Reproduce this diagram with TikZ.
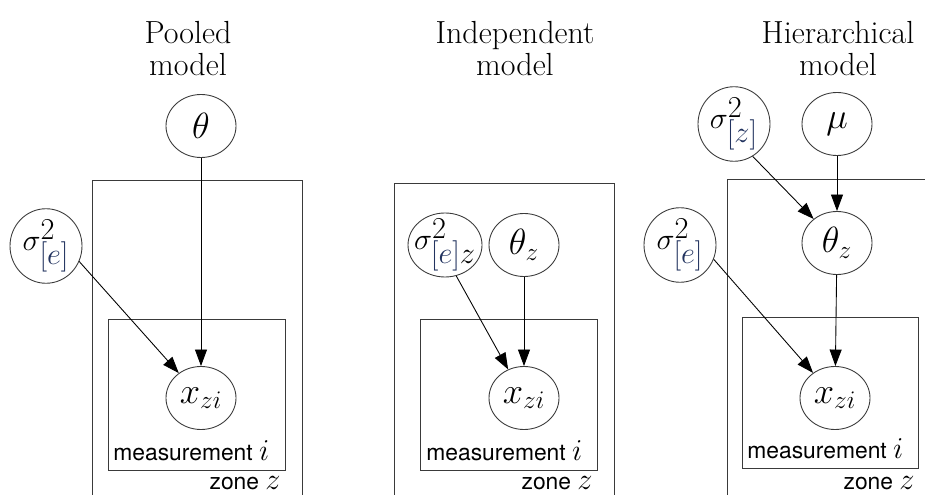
\documentclass[tikz,border=0pt]{standalone}
\usepackage{fontspec}
\setsansfont{TeX Gyre Heros}
\usetikzlibrary{arrows.meta,shapes.geometric}
\definecolor{idx}{HTML}{22335F}
\definecolor{edge}{HTML}{3A3A3A}
\newcommand{\brk}[1]{\textcolor{idx}{[#1]}}
\newcommand{\vsig}[1]{\sigma^{\textstyle 2}_{\textstyle #1}}
\newcommand{\ix}[1]{{\LARGE$#1$}}

\begin{document}
\begin{tikzpicture}[>={Triangle[length=3.3mm,width=2.4mm]},
  var/.style={draw=edge,ellipse,inner sep=0pt,minimum width=1.4cm,minimum height=1.26cm,
              font=\huge,line width=0.5pt},
  svar/.style={var,font=\fontsize{17}{18}\selectfont,minimum width=1.44cm,minimum height=1.24cm},
  plate/.style={draw=edge,line width=0.5pt},
  title/.style={align=center,font=\fontsize{18.2}{18.2}\selectfont,inner sep=0pt},
  tag/.style={font=\sffamily\fontsize{13}{15}\selectfont,inner sep=0pt},
  link/.style={->,draw=black,line width=0.5pt}]
\useasboundingbox (0,0) rectangle (18.5,9.9);

\node[title] (tP) at (3.76,8.92) {Pooled\\model};
\draw[plate] (1.84,-0.2) rectangle (6.04,6.3);
\draw[plate] (2.16,0.50) rectangle (5.70,3.52);
\node[var] (thP) at (4.02,7.38) {$\theta$};
\node[svar] (sP) at (0.92,4.98) {$\vsig{\brk{e}}$};
\node[var] (xP) at (4.02,1.94) {$x_{zi}$};
\node[tag,anchor=base west] (mP) at (2.26,0.68) {measurement \ix{i}};
\node[tag,anchor=base east] (zP) at (5.62,0.1) {zone \ix{z}};
\draw[link] (thP) -- (xP);
\draw[link] (sP.-25) -- (xP);

\node[title] (tI) at (10.3,8.92) {Independent\\model};
\draw[plate] (7.88,-0.2) rectangle (12.28,6.24);
\draw[plate] (8.40,0.50) rectangle (11.94,3.52);
\node[svar,minimum width=1.48cm,minimum height=1.28cm,inner sep=-3pt] (sI) at (8.9,5.0) {$\vsig{\brk{e}z}$};
\node[var] (thI) at (10.48,5.0) {$\theta_z$};
\node[var] (xI) at (10.48,1.94) {$x_{zi}$};
\node[tag,anchor=base west] (mI) at (8.52,0.68) {measurement \ix{i}};
\node[tag,anchor=base east] (zI) at (11.86,0.1) {zone \ix{z}};
\draw[link] (thI) -- (xI);
\draw[link] (sI.-70) -- (xI);

\node[title] (tH) at (16.76,8.92) {Hierarchical\\model};
\draw[plate] (14.54,-0.2) rectangle (18.74,6.32);
\draw[plate] (14.84,0.54) rectangle (18.36,3.56);
\node[svar] (szH) at (14.68,7.42) {$\vsig{\brk{z}}$};
\node[var] (muH) at (16.74,7.42) {$\mu$};
\node[var] (thH) at (16.74,5.04) {$\theta_z$};
\node[svar] (seH) at (13.6,5.0) {$\vsig{\brk{e}}$};
\node[var] (xH) at (16.7,1.94) {$x_{zi}$};
\node[tag,anchor=base west] (mH) at (14.94,0.72) {measurement \ix{i}};
\node[tag,anchor=base east] (zH) at (18.3,0.1) {zone \ix{z}};
\draw[link] (szH.-60) -- (thH);
\draw[link] (muH) -- (thH);
\draw[link] (thH) -- (xH);
\draw[link] (seH.-23) -- (xH);
\end{tikzpicture}
\end{document}
